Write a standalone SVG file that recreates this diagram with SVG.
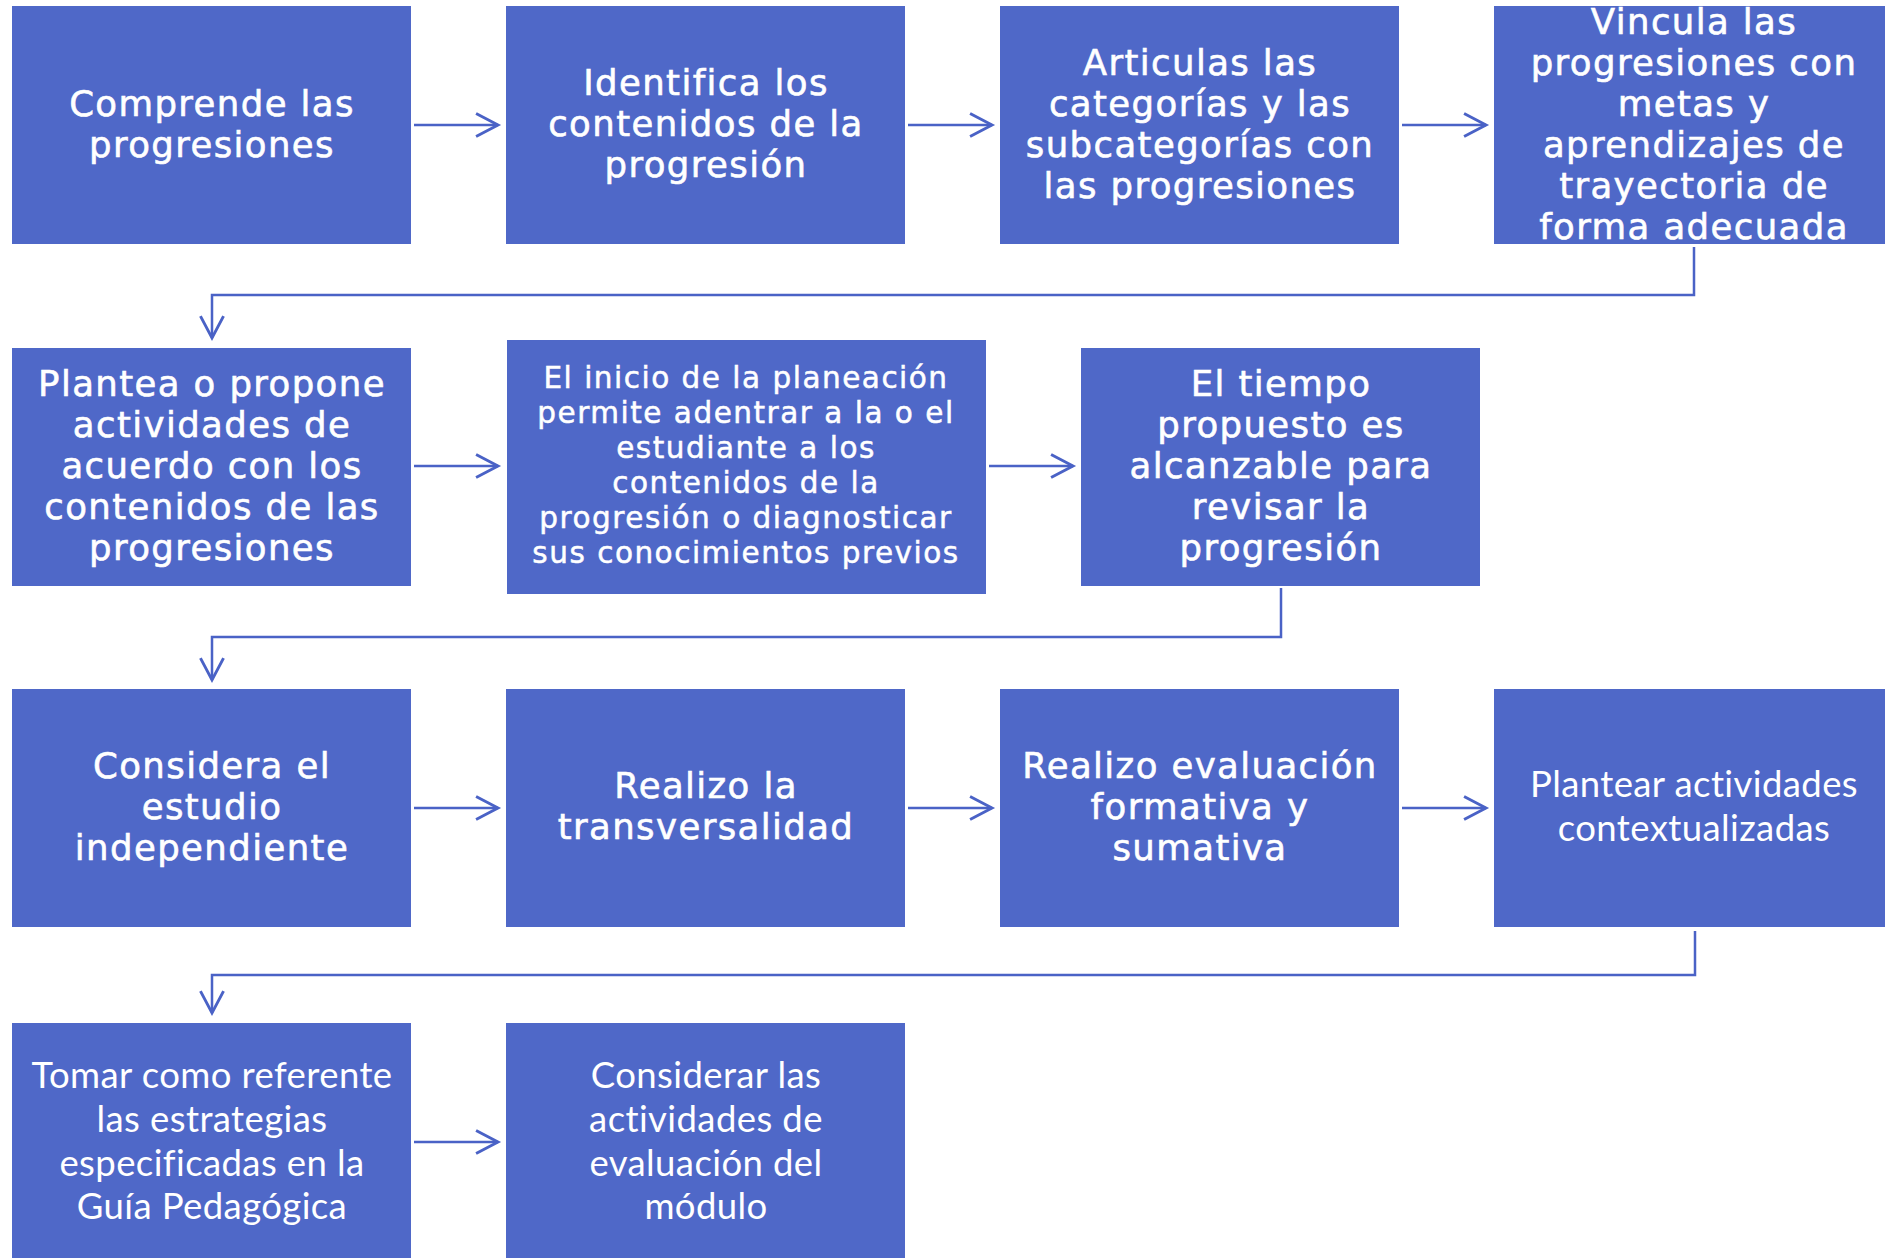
<svg xmlns="http://www.w3.org/2000/svg" width="1885" height="1258" viewBox="0 0 1885 1258">
<defs>
<style>
.box{fill:#4F68C8;}
.m{font-family:"DejaVu Sans",sans-serif;font-size:35.5px;letter-spacing:1.4px;fill:#ffffff;stroke:#ffffff;stroke-width:0.6px;text-anchor:middle;}
.s{font-family:"DejaVu Sans",sans-serif;font-size:29.5px;letter-spacing:1.5px;fill:#ffffff;stroke:#ffffff;stroke-width:0.5px;text-anchor:middle;}
.c{font-family:"Lato","Open Sans",sans-serif;font-size:36.5px;letter-spacing:0.4px;fill:#ffffff;text-anchor:middle;}
.con{fill:none;stroke:#4A62C6;stroke-width:2.5;}
</style>
<marker id="ah" markerUnits="userSpaceOnUse" markerWidth="30" markerHeight="30" viewBox="-22 -13 26 26" refX="0" refY="0" orient="auto">
<path d="M-19,-10 L0,0 L-19,10" fill="none" stroke="#4A62C6" stroke-width="2.5"/>
</marker>
</defs>
<rect width="1885" height="1258" fill="#ffffff"/>
<g id="connectors">
<path class="con" d="M414,125 H498" marker-end="url(#ah)"/>
<path class="con" d="M908,125 H992" marker-end="url(#ah)"/>
<path class="con" d="M1402,125 H1486" marker-end="url(#ah)"/>
<path class="con" d="M1694,247 V295 H212 V338" marker-end="url(#ah)"/>
<path class="con" d="M414,466 H498" marker-end="url(#ah)"/>
<path class="con" d="M989,466 H1073" marker-end="url(#ah)"/>
<path class="con" d="M1281,588 V637 H212 V680" marker-end="url(#ah)"/>
<path class="con" d="M414,808 H498" marker-end="url(#ah)"/>
<path class="con" d="M908,808 H992" marker-end="url(#ah)"/>
<path class="con" d="M1402,808 H1486" marker-end="url(#ah)"/>
<path class="con" d="M1695,931 V975 H212 V1013" marker-end="url(#ah)"/>
<path class="con" d="M414,1142 H498" marker-end="url(#ah)"/>
</g>
<g id="n1"><rect class="box" x="12" y="6" width="399" height="238"/>
<text class="m" x="212"><tspan x="212" y="116">Comprende las</tspan><tspan x="212" y="157">progresiones</tspan></text></g>
<g id="n2"><rect class="box" x="506" y="6" width="399" height="238"/>
<text class="m"><tspan x="706" y="95">Identifica los</tspan><tspan x="706" y="136">contenidos de la</tspan><tspan x="706" y="177">progresión</tspan></text></g>
<g id="n3"><rect class="box" x="1000" y="6" width="399" height="238"/>
<text class="m"><tspan x="1200" y="75">Articulas las</tspan><tspan x="1200" y="116">categorías y las</tspan><tspan x="1200" y="157">subcategorías con</tspan><tspan x="1200" y="198">las progresiones</tspan></text></g>
<g id="n4"><rect class="box" x="1494" y="6" width="399" height="238"/>
<text class="m"><tspan x="1694" y="34">Vincula las</tspan><tspan x="1694" y="75">progresiones con</tspan><tspan x="1694" y="116">metas y</tspan><tspan x="1694" y="157">aprendizajes de</tspan><tspan x="1694" y="198">trayectoria de</tspan><tspan x="1694" y="239">forma adecuada</tspan></text></g>
<g id="n5"><rect class="box" x="12" y="348" width="399" height="238"/>
<text class="m"><tspan x="212" y="396">Plantea o propone</tspan><tspan x="212" y="437">actividades de</tspan><tspan x="212" y="478">acuerdo con los</tspan><tspan x="212" y="519">contenidos de las</tspan><tspan x="212" y="560">progresiones</tspan></text></g>
<g id="n6"><rect class="box" x="507" y="340" width="479" height="254"/>
<text class="s"><tspan x="746" y="388">El inicio de la planeación</tspan><tspan x="746" y="423">permite adentrar a la o el</tspan><tspan x="746" y="458">estudiante a los</tspan><tspan x="746" y="493">contenidos de la</tspan><tspan x="746" y="528">progresión o diagnosticar</tspan><tspan x="746" y="563">sus conocimientos previos</tspan></text></g>
<g id="n7"><rect class="box" x="1081" y="348" width="399" height="238"/>
<text class="m"><tspan x="1281" y="396">El tiempo</tspan><tspan x="1281" y="437">propuesto es</tspan><tspan x="1281" y="478">alcanzable para</tspan><tspan x="1281" y="519">revisar la</tspan><tspan x="1281" y="560">progresión</tspan></text></g>
<g id="n8"><rect class="box" x="12" y="689" width="399" height="238"/>
<text class="m"><tspan x="212" y="778">Considera el</tspan><tspan x="212" y="819">estudio</tspan><tspan x="212" y="860">independiente</tspan></text></g>
<g id="n9"><rect class="box" x="506" y="689" width="399" height="238"/>
<text class="m"><tspan x="706" y="798">Realizo la</tspan><tspan x="706" y="839">transversalidad</tspan></text></g>
<g id="n10"><rect class="box" x="1000" y="689" width="399" height="238"/>
<text class="m"><tspan x="1200" y="778">Realizo evaluación</tspan><tspan x="1200" y="819">formativa y</tspan><tspan x="1200" y="860">sumativa</tspan></text></g>
<g id="n11"><rect class="box" x="1494" y="689" width="399" height="238"/>
<text class="c"><tspan x="1694" y="797">Plantear actividades</tspan><tspan x="1694" y="841">contextualizadas</tspan></text></g>
<g id="n12"><rect class="box" x="12" y="1023" width="399" height="240"/>
<text class="c"><tspan x="212" y="1088">Tomar como referente</tspan><tspan x="212" y="1132">las estrategias</tspan><tspan x="212" y="1176">especificadas en la</tspan><tspan x="212" y="1219">Guía Pedagógica</tspan></text></g>
<g id="n13"><rect class="box" x="506" y="1023" width="399" height="240"/>
<text class="c"><tspan x="706" y="1088">Considerar las</tspan><tspan x="706" y="1132">actividades de</tspan><tspan x="706" y="1176">evaluación del</tspan><tspan x="706" y="1219">módulo</tspan></text></g>
</svg>
